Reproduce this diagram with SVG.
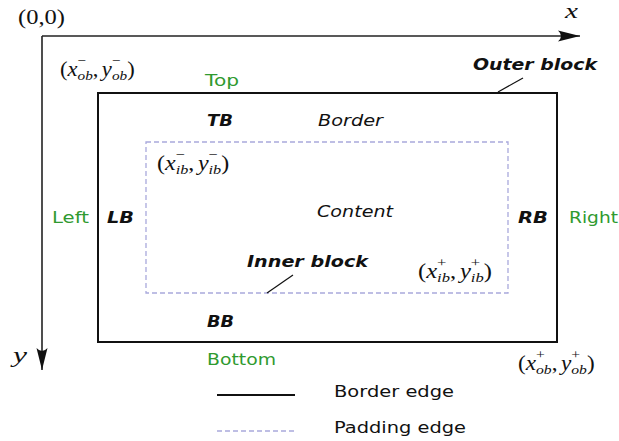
<svg xmlns="http://www.w3.org/2000/svg" width="619" height="441" viewBox="0 0 619 441">
  <style>
    .lbl { font-family: "DejaVu Sans", Verdana, sans-serif; font-size: 16.5px; fill: #111; }
    .green { fill: #2f9a2f; }
    .it { font-style: oblique; }
    .bi { font-style: oblique; font-weight: bold; }
    .m { font-family: "Liberation Serif", "Times New Roman", serif; font-size: 20px; fill: #111; }
    .mi { font-style: italic; }
    .s { font-size: 13.5px; }
    .border { fill: none; stroke: #111; stroke-width: 2; }
    .padding { fill: none; stroke: #a9a9dc; stroke-width: 1.3; stroke-dasharray: 5 3; }
    .axis { fill: none; stroke: #222; stroke-width: 1.6; }
    .leader { fill: none; stroke: #111; stroke-width: 1.2; }
  </style>
  <defs>
    <marker id="head" markerUnits="userSpaceOnUse" viewBox="-23 -6 24 12" refX="0" refY="0" markerWidth="24" markerHeight="12" orient="auto">
      <path d="M0,0 L-22,-5.5 Q-16,0 -22,5.5 Z" fill="#111"/>
    </marker>
  </defs>
  <rect width="619" height="441" fill="#fff"/>

  <!-- coordinate axes -->
  <g id="axes">
    <path class="axis" d="M42,36 H580" marker-end="url(#head)"/>
    <path class="axis" d="M42,36 V370" marker-end="url(#head)"/>
    <text class="m" x="18" y="24" textLength="47" lengthAdjust="spacingAndGlyphs">(0,0)</text>
    <text class="m mi" x="565" y="18" font-size="21" textLength="13" lengthAdjust="spacingAndGlyphs">x</text>
    <text class="m mi" x="13" y="362" font-size="21" textLength="14" lengthAdjust="spacingAndGlyphs">y</text>
  </g>

  <!-- outer block: border edge -->
  <g id="outer-block">
    <rect class="border" x="98" y="93" width="459" height="249"/>
    <text class="lbl bi" x="473" y="70" textLength="124" lengthAdjust="spacingAndGlyphs">Outer block</text>
    <text class="lbl" x="318" y="126" textLength="65" lengthAdjust="spacingAndGlyphs"><tspan class="it">Border</tspan></text>
    <text class="lbl bi" x="207" y="126" textLength="26" lengthAdjust="spacingAndGlyphs">TB</text>
    <text class="lbl bi" x="107" y="223" textLength="27" lengthAdjust="spacingAndGlyphs">LB</text>
    <text class="lbl bi" x="518" y="223" textLength="30" lengthAdjust="spacingAndGlyphs">RB</text>
    <text class="lbl bi" x="207" y="327" textLength="27" lengthAdjust="spacingAndGlyphs">BB</text>
    <text class="m" transform="translate(60 76) scale(1.13 1)">(<tspan class="mi">x</tspan><tspan class="s" dy="-11">−</tspan><tspan class="s mi" dx="-7.6" dy="15">ob</tspan><tspan dy="-4">,</tspan><tspan class="mi" dx="3">y</tspan><tspan class="s" dy="-11">−</tspan><tspan class="s mi" dx="-7.6" dy="15">ob</tspan><tspan dy="-4">)</tspan></text>
    <text class="m" transform="translate(518 370) scale(1.16 1)">(<tspan class="mi">x</tspan><tspan class="s" dy="-11">+</tspan><tspan class="s mi" dx="-7.6" dy="15">ob</tspan><tspan dy="-4">,</tspan><tspan class="mi" dx="3">y</tspan><tspan class="s" dy="-11">+</tspan><tspan class="s mi" dx="-7.6" dy="15">ob</tspan><tspan dy="-4">)</tspan></text>
  </g>

  <!-- inner block: padding edge -->
  <g id="inner-block">
    <rect class="padding" x="146" y="142" width="362" height="151"/>
    <text class="lbl it" x="317" y="217" textLength="76" lengthAdjust="spacingAndGlyphs">Content</text>
    <text class="lbl bi" x="247" y="267" textLength="121" lengthAdjust="spacingAndGlyphs">Inner block</text>
    <text class="m" transform="translate(157 170) scale(1.2 1)">(<tspan class="mi">x</tspan><tspan class="s" dy="-11">−</tspan><tspan class="s mi" dx="-7.6" dy="15">ib</tspan><tspan dy="-4">,</tspan><tspan class="mi" dx="3">y</tspan><tspan class="s" dy="-11">−</tspan><tspan class="s mi" dx="-7.6" dy="15">ib</tspan><tspan dy="-4">)</tspan></text>
    <text class="m" transform="translate(418 278) scale(1.23 1)">(<tspan class="mi">x</tspan><tspan class="s" dy="-11">+</tspan><tspan class="s mi" dx="-7.6" dy="15">ib</tspan><tspan dy="-4">,</tspan><tspan class="mi" dx="3">y</tspan><tspan class="s" dy="-11">+</tspan><tspan class="s mi" dx="-7.6" dy="15">ib</tspan><tspan dy="-4">)</tspan></text>
  </g>

  <!-- side names -->
  <g id="sides">
    <text class="lbl green" x="205" y="86" textLength="34" lengthAdjust="spacingAndGlyphs">Top</text>
    <text class="lbl green" x="52" y="223" textLength="37" lengthAdjust="spacingAndGlyphs">Left</text>
    <text class="lbl green" x="569" y="223" textLength="49" lengthAdjust="spacingAndGlyphs">Right</text>
    <text class="lbl green" x="207" y="365" textLength="69" lengthAdjust="spacingAndGlyphs">Bottom</text>
  </g>

  <!-- leader lines from names to edges -->
  <g id="connectors">
    <path class="leader" d="M498,92 L523,78"/>
    <path class="leader" d="M267,293 L293,275"/>
  </g>

  <!-- legend -->
  <g id="legend">
    <path class="border" d="M217,395 H295"/>
    <text class="lbl" x="334" y="397" textLength="120" lengthAdjust="spacingAndGlyphs">Border edge</text>
    <path class="padding" d="M217,431 H295"/>
    <text class="lbl" x="334" y="433" textLength="132" lengthAdjust="spacingAndGlyphs">Padding edge</text>
  </g>
</svg>
